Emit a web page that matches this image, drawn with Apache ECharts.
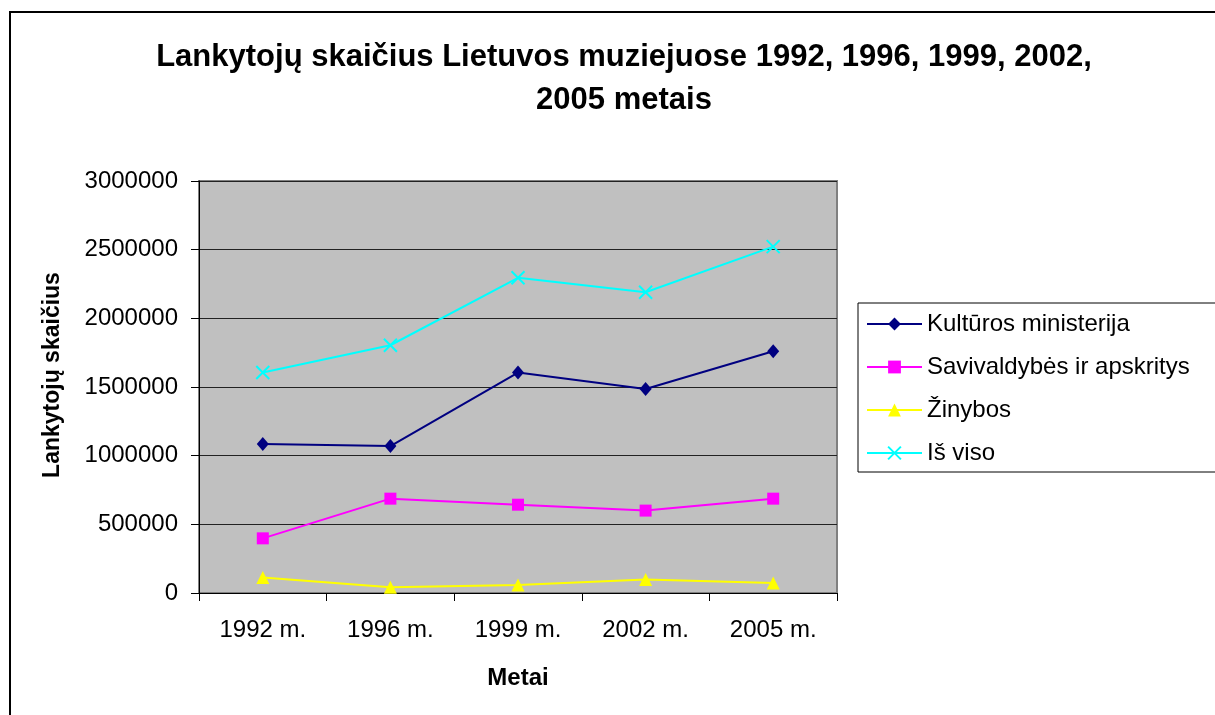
<!DOCTYPE html>
<html>
<head>
<meta charset="utf-8">
<title>Lankytojų skaičius</title>
<script src="https://cdn.jsdelivr.net/npm/echarts@6/dist/echarts.min.js"></script>
<style>
  html, body { margin: 0; padding: 0; background: #fff; }
  #chart { width: 1215px; height: 715px; }
</style>
</head>
<body>
<div id="chart"></div>
<script>
// metai (x axis)
var years = ['1992 m.', '1996 m.', '1999 m.', '2002 m.', '2005 m.']

// lankytojai pagal pavaldumą
var kulturosMinisterija = [1085000, 1070000, 1605000, 1485000, 1760000]
var savivaldybes = [398000, 687000, 643000, 600000, 687000]
var zinybos = [113000, 41000, 58000, 99000, 72000]
var isViso = [1606000, 1804000, 2295000, 2190000, 2522000]

var seriesNames = ['Kultūros ministerija', 'Savivaldybės ir apskritys', 'Žinybos', 'Iš viso']

var yTicks = { min: 0, max: 3000000, interval: 500000 }

var font = 'Arial, "Liberation Sans", sans-serif'
var crossPath = 'path://M0,0L12,12M12,0L0,12'

var chart = echarts.init(document.getElementById('chart'))

function lineSeries(name, data, color, symbol, size, extra) {
  var s = {
    name: name,
    type: 'line',
    data: data,
    symbol: symbol,
    symbolSize: size,
    showAllSymbol: true,
    lineStyle: { color: color, width: 2 },
    itemStyle: { color: color },
    emphasis: { disabled: true }
  }
  return Object.assign(s, extra || {})
}

chart.setOption({
  animation: false,
  backgroundColor: '#fff',
  textStyle: { fontFamily: font },
  graphic: [{
    type: 'rect',
    shape: { x: 10, y: 12, width: 1300, height: 800 },
    style: { fill: 'none', stroke: '#000', lineWidth: 2 },
    silent: true,
    z: 100
  }],
  title: {
    text: 'Lankytojų skaičius Lietuvos muziejuose 1992, 1996, 1999, 2002,\n2005 metais',
    left: 624,
    top: 36,
    padding: 0,
    textAlign: 'center',
    textStyle: {
      fontFamily: font,
      fontSize: 31,
      fontWeight: 'bold',
      lineHeight: 43,
      color: '#000'
    }
  },
  legend: {
    orient: 'vertical',
    left: 858,
    top: 303,
    padding: [9, 40, 7, 8],
    itemWidth: 55,
    itemHeight: 16,
    itemGap: 19,
    borderColor: '#000',
    borderWidth: 1,
    backgroundColor: '#fff',
    textStyle: { fontFamily: font, fontSize: 24, color: '#000' },
    data: seriesNames
  },
  grid: {
    left: 199,
    top: 181,
    width: 638,
    height: 412,
    show: true,
    backgroundColor: '#C0C0C0',
    borderColor: '#808080',
    borderWidth: 2
  },
  xAxis: {
    type: 'category',
    data: years,
    boundaryGap: true,
    name: 'Metai',
    nameLocation: 'middle',
    nameGap: 73,
    nameTextStyle: { fontFamily: font, fontSize: 24, fontWeight: 'bold', color: '#000' },
    axisLine: { lineStyle: { color: '#000', width: 1 } },
    axisTick: { show: true, length: 8, lineStyle: { color: '#000' } },
    axisLabel: { fontSize: 24, color: '#000', margin: 25 }
  },
  yAxis: {
    type: 'value',
    min: yTicks.min,
    max: yTicks.max,
    interval: yTicks.interval,
    name: 'Lankytojų skaičius',
    nameLocation: 'middle',
    nameRotate: 90,
    nameGap: 135,
    nameTextStyle: { fontFamily: font, fontSize: 23, fontWeight: 'bold', color: '#000', padding: [0, 0, 0, 24] },
    axisLine: { show: true, lineStyle: { color: '#000', width: 1 } },
    axisTick: { show: true, length: 8, lineStyle: { color: '#000' } },
    axisLabel: {
      fontSize: 24,
      color: '#000',
      margin: 21,
      formatter: function (v) { return String(v) }
    },
    splitLine: { show: true, lineStyle: { color: '#222', width: 1 } }
  },
  series: [
    lineSeries(seriesNames[0], kulturosMinisterija, '#000080', 'diamond', [12, 14]),
    lineSeries(seriesNames[1], savivaldybes, '#FF00FF', 'rect', 12),
    lineSeries(seriesNames[2], zinybos, '#FFFF00', 'triangle', 13),
    lineSeries(seriesNames[3], isViso, '#00FFFF', crossPath, 13, {
      itemStyle: { color: '#00FFFF', borderColor: '#00FFFF', borderWidth: 2 }
    })
  ]
})
</script>
</body>
</html>
